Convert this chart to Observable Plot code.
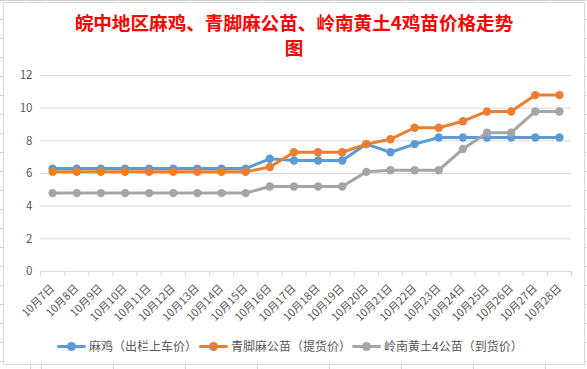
<!DOCTYPE html>
<html><head><meta charset="utf-8">
<script src="https://cdn.jsdelivr.net/npm/d3@7"></script>
<script src="https://cdn.jsdelivr.net/npm/@observablehq/plot@0.6"></script>
<style>
html,body{margin:0;padding:0;background:#fff;}
#sheet{position:relative;width:587px;height:369px;overflow:hidden;
 background-color:#fff;
 background-image:repeating-linear-gradient(to right,#d4d4d4 0 1px,transparent 1px 72px),
 repeating-linear-gradient(to bottom,#d4d4d4 0 1px,transparent 1px 19px);
 background-position:41px 0, 0 0;}
#frame{position:absolute;left:3px;top:2px;width:580px;height:361px;background:#fff;border:1px solid #d9d9d9;}
#title{position:absolute;left:44px;top:9px;width:500px;text-align:center;color:#ff0000;
 font-family:"Noto Sans CJK SC",sans-serif;font-weight:bold;font-size:18.6px;line-height:25px;}
#plot{position:absolute;left:0;top:60px;}
#plot svg{max-width:none;}
#legend{position:absolute;left:0;top:337px;width:587px;font-family:"Noto Sans CJK SC",sans-serif;font-size:12px;color:#595959;}
.item{position:absolute;top:0;height:18px;line-height:18px;white-space:nowrap;}
.sw{display:inline-block;position:relative;width:29px;height:18px;vertical-align:top;margin-right:3px;}
.sw i{position:absolute;left:0;right:0;top:7.5px;height:3px;border-radius:1.5px;}
.sw b{position:absolute;left:10px;top:4.5px;width:9px;height:9px;border-radius:50%;}
</style></head>
<body>
<div id="sheet">
<div id="frame"></div>
<div id="title">皖中地区麻鸡、青脚麻公苗、岭南黄土4鸡苗价格走势<br>图</div>
<div id="plot"></div>
<div id="legend"></div>
</div>
<script>
const dates = ["10月7日","10月8日","10月9日","10月10日","10月11日","10月12日","10月13日","10月14日","10月15日","10月16日","10月17日","10月18日","10月19日","10月20日","10月21日","10月22日","10月23日","10月24日","10月25日","10月26日","10月27日","10月28日"];
const seriesNames = ["麻鸡（出栏上车价）","青脚麻公苗（提货价）","岭南黄土4公苗（到货价）"];
const seriesColors = ["#5B9BD5","#ED7D31","#A5A5A5"];
const maji = [6.3,6.3,6.3,6.3,6.3,6.3,6.3,6.3,6.3,6.9,6.8,6.8,6.8,7.8,7.3,7.8,8.2,8.2,8.2,8.2,8.2,8.2];
const qingjiao = [6.1,6.1,6.1,6.1,6.1,6.1,6.1,6.1,6.1,6.4,7.3,7.3,7.3,7.8,8.1,8.8,8.8,9.2,9.8,9.8,10.8,10.8];
const lingnan = [4.8,4.8,4.8,4.8,4.8,4.8,4.8,4.8,4.8,5.2,5.2,5.2,5.2,6.1,6.2,6.2,6.2,7.5,8.5,8.5,9.8,9.8];
const yTicks = [0,2,4,6,8,10,12];

const allValues = [maji, qingjiao, lingnan];
const width = 587, mL = 40, mR = 16;
const step = (width - mL - mR) / dates.length;
const font = '"Noto Sans CJK SC", sans-serif';

const seriesMarks = allValues.flatMap((vals, k) => {
  const rows = dates.map((d, i) => ({date: d, value: vals[i], name: seriesNames[k]}));
  return [
    Plot.line(rows, {x: "date", y: "value", stroke: "name", strokeWidth: 3, strokeLinejoin: "round", strokeLinecap: "round"}),
    Plot.dot(rows, {x: "date", y: "value", fill: "name", r: 4.2})
  ];
});

const chart = Plot.plot({
  width, height: 272, marginLeft: mL, marginRight: mR, marginTop: 15, marginBottom: 61,
  style: {fontFamily: font, fontSize: "11px", color: "#595959", background: "transparent", overflow: "visible"},
  x: {type: "point", domain: dates, padding: 0.5, round: false},
  y: {domain: [0, 12]},
  color: {domain: seriesNames, range: seriesColors},
  marks: [
    Plot.gridY(yTicks, {stroke: "#d9d9d9", strokeOpacity: 1}),
    Plot.axisY(yTicks, {tickSize: 0, tickPadding: 8, label: null, fontSize: 11.5, fill: "#595959"}),
    Plot.ruleY([0], {stroke: "#d9d9d9"}),
    Plot.axisX(dates, {tickSize: 5, text: null, stroke: "#d9d9d9", strokeOpacity: 1, dx: -step / 2, label: null}),
    Plot.axisX([dates[dates.length - 1]], {tickSize: 5, text: null, stroke: "#d9d9d9", strokeOpacity: 1, dx: step / 2, label: null}),
    Plot.axisX(dates, {tickSize: 0, tickRotate: -45, tickPadding: 15, fontSize: 11, fill: "#595959", label: null}),
    ...seriesMarks
  ]
});
document.getElementById("plot").appendChild(chart);

const legend = document.getElementById("legend");
const lefts = [57, 199, 352];
seriesNames.forEach((n, k) => {
  const it = document.createElement("div");
  it.className = "item";
  it.style.left = lefts[k] + "px";
  it.innerHTML = `<span class="sw"><i style="background:${seriesColors[k]}"></i><b style="background:${seriesColors[k]}"></b></span>${n}`;
  legend.appendChild(it);
});
</script>
</body></html>
